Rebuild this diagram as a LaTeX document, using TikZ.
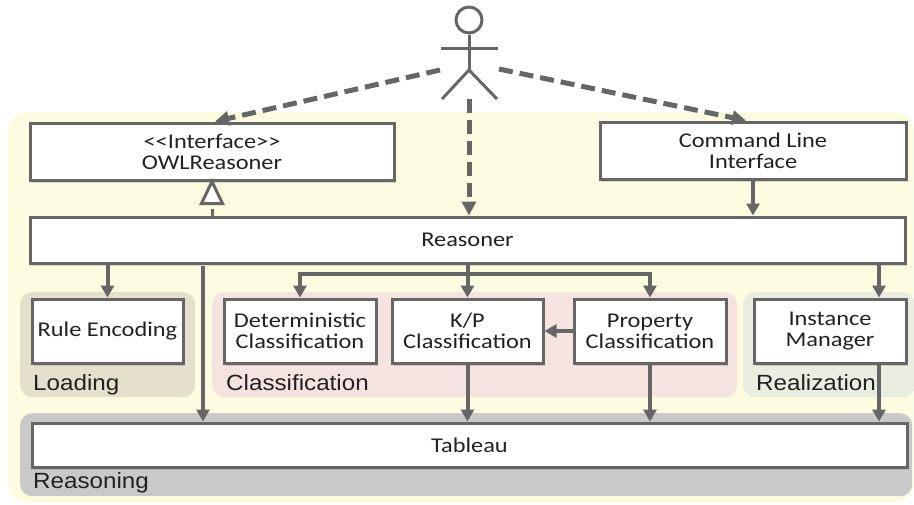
\documentclass[tikz,border=0pt]{standalone}
\usepackage{fontspec}
\setmainfont{Carlito}[FakeStretch=1.16]
\newfontfamily\grpfont{Liberation Sans}[FakeStretch=1.1]
\usetikzlibrary{arrows.meta,shadows}
\definecolor{ln}{HTML}{666666}
\definecolor{txt}{HTML}{222222}
\definecolor{bgY}{HTML}{FEFCE0}
\definecolor{gLoad}{HTML}{E4E0CB}
\definecolor{gClass}{HTML}{F5E3DF}
\definecolor{gReal}{HTML}{E9EEE1}
\definecolor{gReas}{HTML}{C9C9C9}
\begin{document}
\begin{tikzpicture}[x=1pt,y=-1pt,
  box/.style={draw=ln,line width=3pt,fill=white,inner sep=0pt,align=center,
    font=\fontsize{21}{21}\selectfont,text=txt,
    drop shadow={shadow xshift=2pt,shadow yshift=-2.5pt,opacity=0.3}},
  grp/.style={fill=#1,rounded corners=12pt,inner sep=0pt,anchor=north west},
  glabel/.style={font=\grpfont\fontsize{22}{22}\selectfont,anchor=base west,inner sep=0pt,text=txt},
  arr/.style={draw=ln,line width=4pt,-{Triangle[length=12pt,width=13pt]}},
  darr/.style={draw=ln,line width=5pt,dash pattern=on 14pt off 7pt,-{Triangle[length=14pt,width=14pt]}},
  actor/.style={draw=ln,line width=3pt}]
\useasboundingbox (0,0) rectangle (914,504);
% backgrounds
\node[grp=bgY,rounded corners=18pt,minimum width=905pt,minimum height=390pt] (bg) at (8,112) {};
\node[grp=gLoad,minimum width=175pt,minimum height=105pt] (gload) at (20,292) {};
\node[grp=gClass,minimum width=525pt,minimum height=105pt] (gclass) at (212,292) {};
\node[grp=gReal,minimum width=172pt,minimum height=105pt] (greal) at (743,292) {};
\node[grp=gReas,minimum width=892pt,minimum height=83pt] (greas) at (20,413) {};
\node[glabel] (lload) at (33,390) {Loading};
\node[glabel] (lclass) at (226,390) {Classification};
\node[glabel] (lreal) at (756,390) {Realization};
\node[glabel] (lreas) at (33,488) {Reasoning};
% actor
\node[actor,circle,minimum size=26pt,inner sep=0pt] (head) at (469,20) {};
\coordinate (hip) at (469,70);
\coordinate (armL) at (441,48);
\coordinate (armR) at (498,48);
\coordinate (legL) at (442,99);
\coordinate (legR) at (497,99);
\draw[actor] (head.south) -- (hip);
\draw[actor] (armL) -- (armR);
\draw[actor] (legL) -- (hip) -- (legR);
% boxes
\node[box,minimum width=364pt,minimum height=57pt] (owl) at (212,151.5) {<\kern0pt<Interface>\kern0pt>\\OWLReasoner};
\node[box,minimum width=306pt,minimum height=57pt] (cli) at (753,150.5) {Command Line\\Interface};
\node[box,minimum width=875pt,minimum height=46pt] (reasoner) at (467.5,240) {Reasoner};
\node[box,minimum width=151pt,minimum height=64pt] (rule) at (107.5,331) {Rule Encoding};
\node[box,minimum width=152pt,minimum height=64pt] (det) at (300,331) {Deterministic\\Classification};
\node[box,minimum width=151pt,minimum height=64pt] (kp) at (467.5,331) {K/P\\Classification};
\node[box,minimum width=152pt,minimum height=64pt] (prop) at (650,331) {Property\\Classification};
\node[box,minimum width=152pt,minimum height=64pt] (inst) at (830,331) {Instance\\Manager};
\node[box,minimum width=875pt,minimum height=44pt] (tableau) at (469.5,445) {Tableau};
% actor connectors
\coordinate (aL) at (440,70);
\coordinate (aR) at (499,69);
\coordinate (aM) at (469,99);
\draw[darr] (aL) -- ([xshift=3pt]owl.north);
\draw[darr] (aR) -- ([xshift=-7pt]cli.north);
\draw[darr] (aM) -- (aM |- reasoner.north);
% inheritance (realization) arrow with open triangle
\coordinate (tri) at ([yshift=-22pt]owl.south);
\draw[draw=ln,line width=3pt,dash pattern=on 7pt off 4pt] (reasoner.north -| owl.south) -- (tri);
\draw[draw=ln,line width=3pt,fill=white,line join=miter] (owl.south) -- ([xshift=-10.5pt]tri) -- ([xshift=10.5pt]tri) -- cycle;
% solid connectors
\draw[arr] (cli.south) -- (cli.south |- reasoner.north);
\draw[arr] (rule.north |- reasoner.south) -- (rule.north);
\coordinate (rt) at (203,266);
\draw[arr] (rt) -- (rt |- tableau.north);
\draw[arr] (kp.north |- reasoner.south) -- (kp.north);
\coordinate (br) at (467.5,274);
\draw[arr] (br) -| (det.north);
\draw[arr] (br) -| (prop.north);
\draw[arr] (prop.west) -- (kp.east);
\draw[arr] (kp.south) -- (kp.south |- tableau.north);
\draw[arr] (prop.south) -- (prop.south |- tableau.north);
\coordinate (ix) at (879,0);
\draw[arr] (ix |- reasoner.south) -- (ix |- inst.north);
\draw[arr] (ix |- inst.south) -- (ix |- tableau.north);
\end{tikzpicture}
\end{document}
